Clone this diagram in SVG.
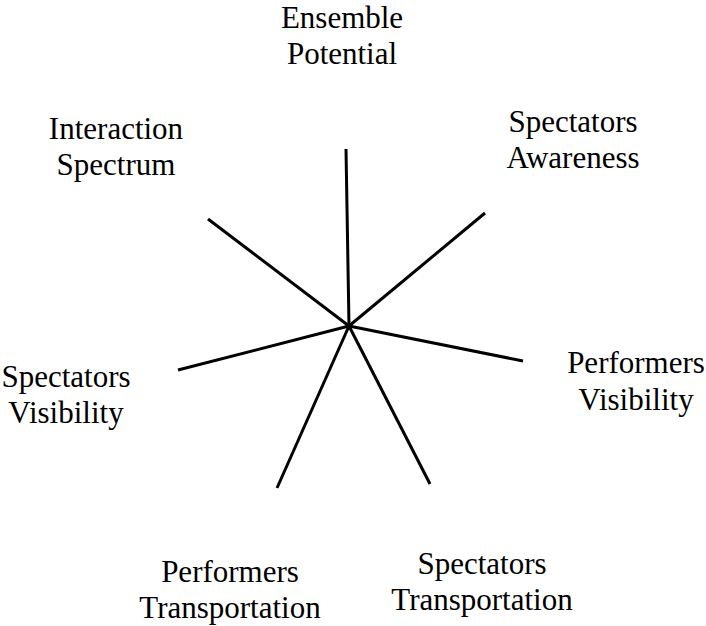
<svg xmlns="http://www.w3.org/2000/svg" width="706" height="626" viewBox="0 0 706 626">
<style>
text{font-family:"Liberation Serif","Times New Roman",serif;font-size:31px;fill:#000;text-anchor:middle}
.c line{stroke:#000;stroke-width:3;stroke-linecap:butt}
</style>
<rect width="706" height="626" fill="#fff"/>
<g class="c" id="connectors">
<line x1="349" y1="326" x2="346" y2="149"/>
<line x1="349" y1="326" x2="485" y2="213"/>
<line x1="349" y1="326" x2="523" y2="361"/>
<line x1="349" y1="326" x2="430" y2="484"/>
<line x1="349" y1="326" x2="277" y2="488"/>
<line x1="349" y1="326" x2="178" y2="370"/>
<line x1="349" y1="326" x2="208" y2="219"/>
</g>
<g id="ensemble"><text x="342" y="28">Ensemble</text><text x="342" y="64">Potential</text></g>
<g id="interaction"><text x="116" y="139">Interaction</text><text x="116" y="175">Spectrum</text></g>
<g id="spectators-awareness"><text x="573" y="132">Spectators</text><text x="573" y="168">Awareness</text></g>
<g id="performers-visibility"><text x="636" y="373">Performers</text><text x="636" y="410">Visibility</text></g>
<g id="spectators-visibility"><text x="66" y="387">Spectators</text><text x="66" y="423">Visibility</text></g>
<g id="performers-transportation"><text x="230" y="582">Performers</text><text x="230" y="618">Transportation</text></g>
<g id="spectators-transportation"><text x="482" y="574">Spectators</text><text x="482" y="610">Transportation</text></g>
</svg>
